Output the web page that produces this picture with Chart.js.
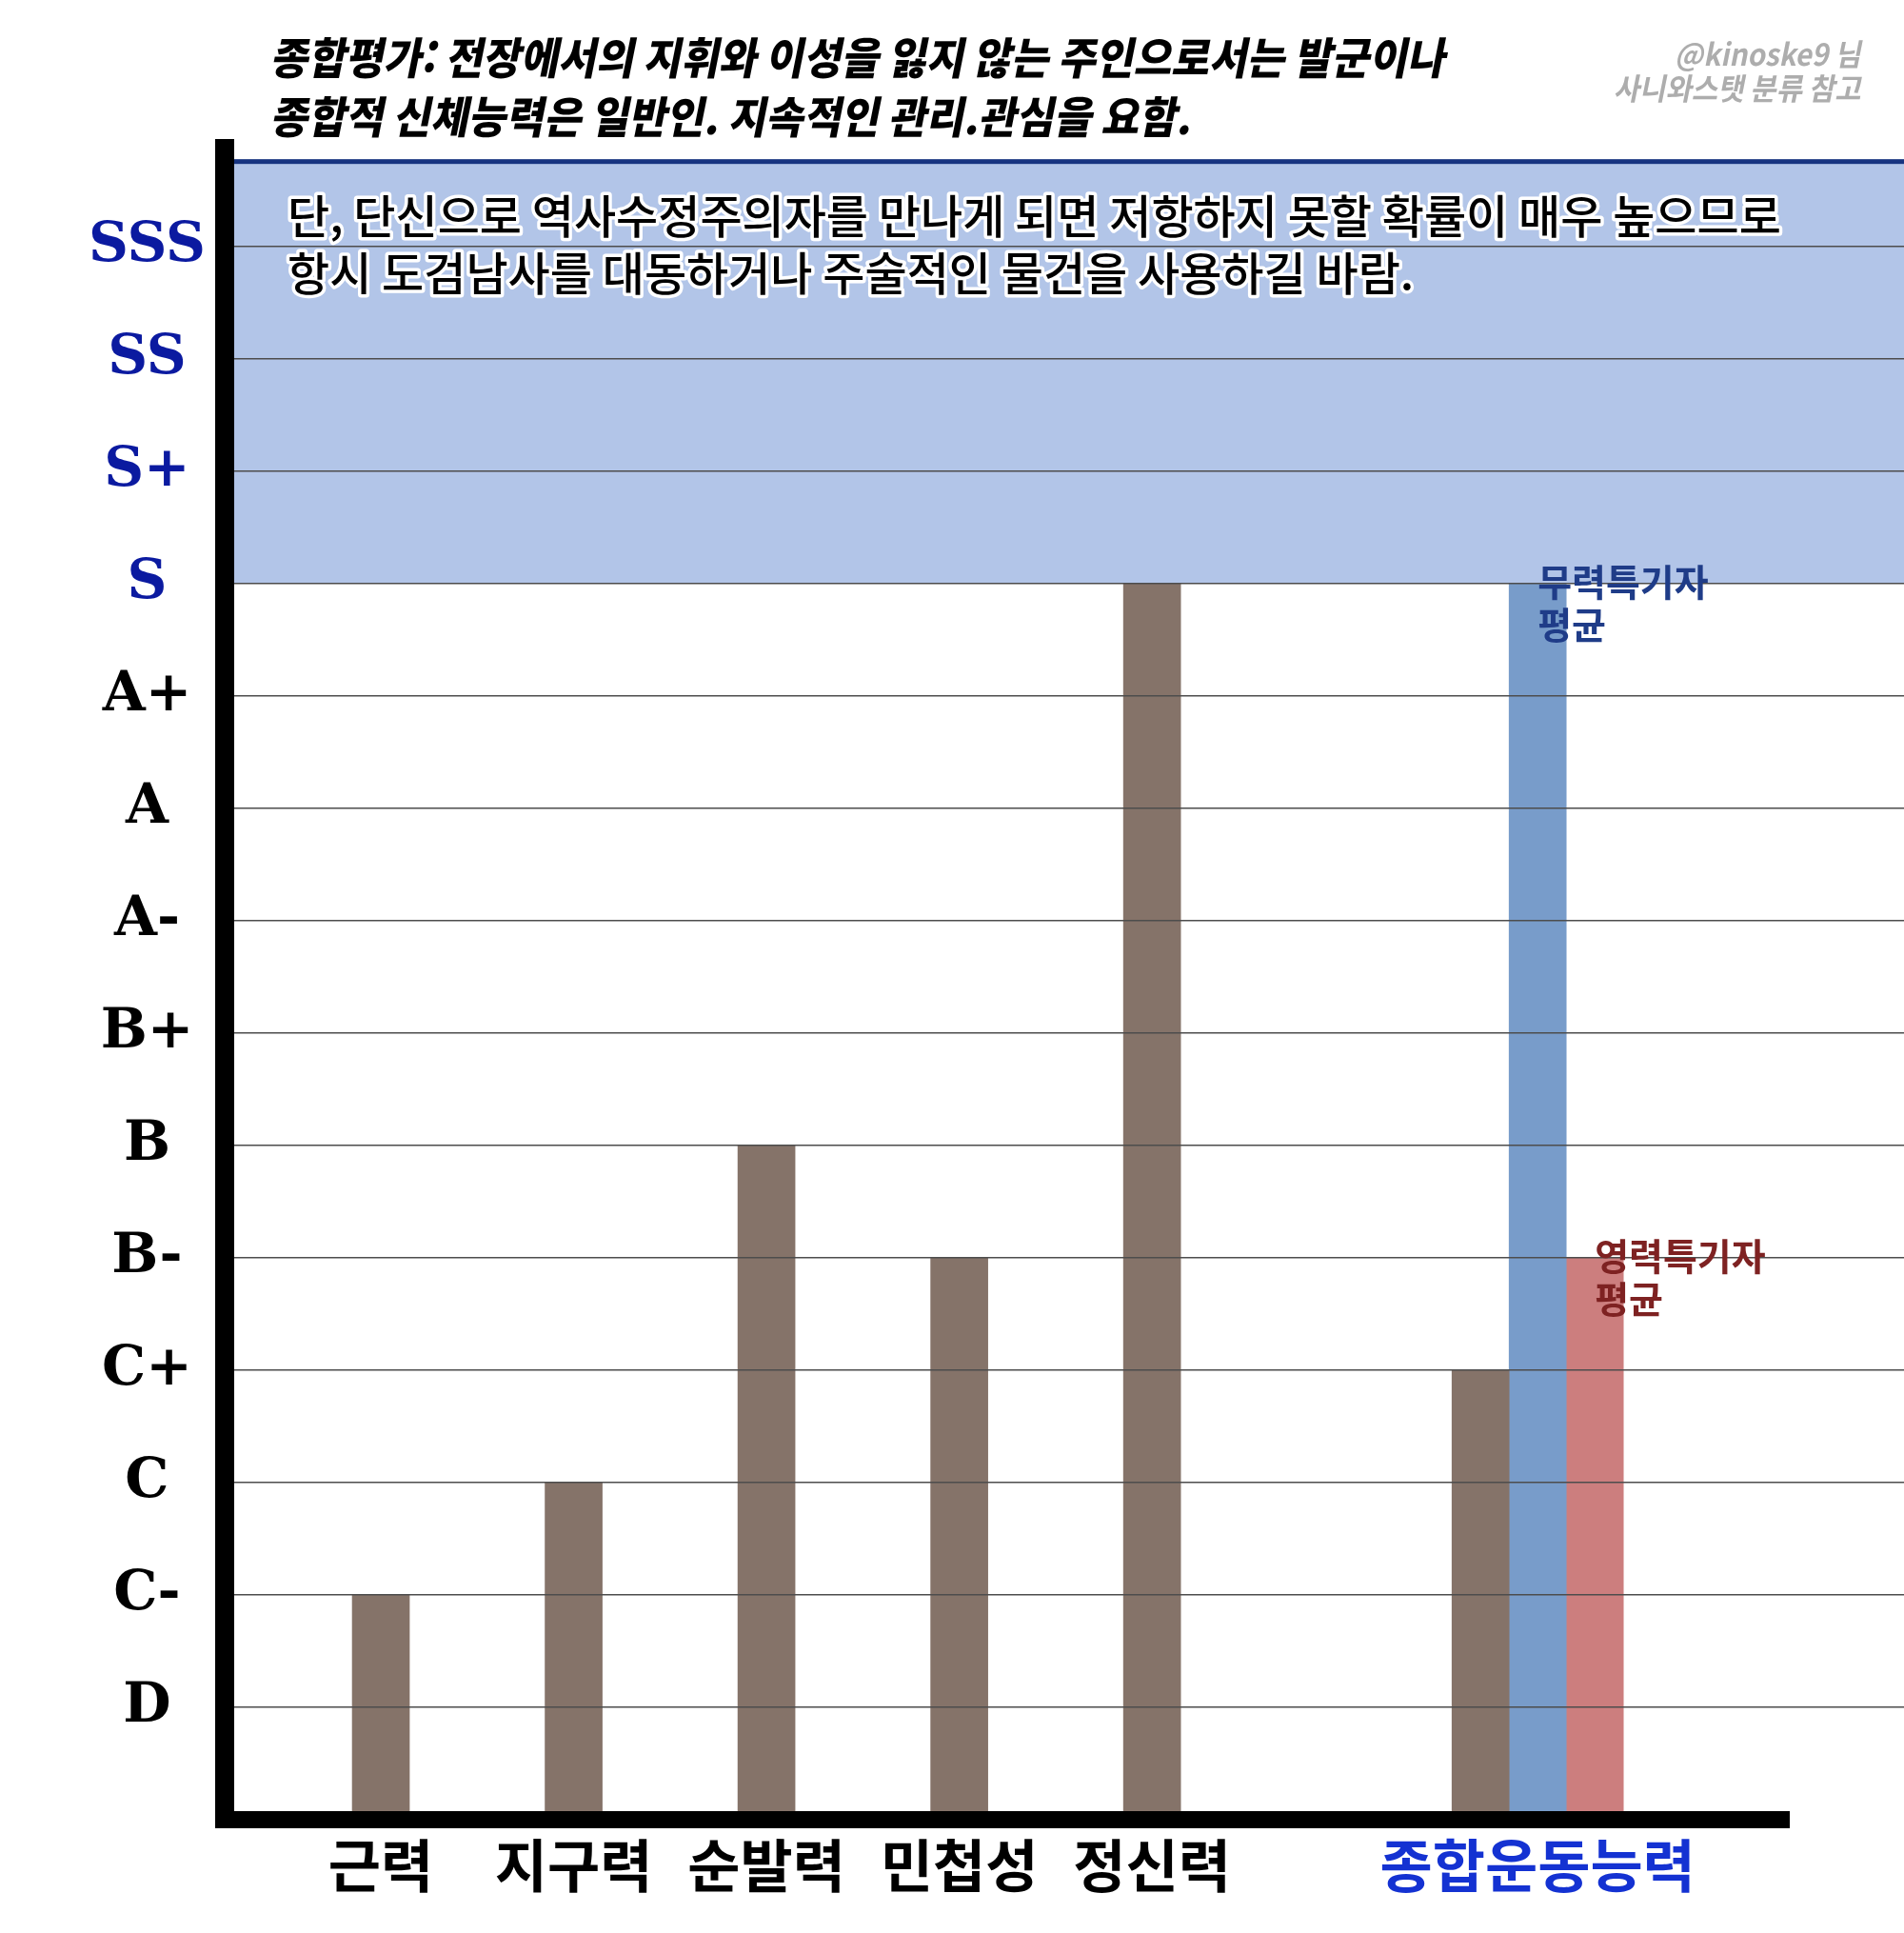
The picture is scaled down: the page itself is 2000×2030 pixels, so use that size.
<!DOCTYPE html>
<html lang="ko">
<head>
<meta charset="utf-8">
<title>종합평가</title>
<script src="https://cdn.jsdelivr.net/npm/chart.js@4.4.1/dist/chart.umd.min.js"></script>
<style>
  html, body { margin: 0; padding: 0; background: #fff; }
  #wrap { width: 2000px; height: 2030px; }
</style>
</head>
<body>
<div id="wrap"><canvas id="chart" width="2000" height="2030"></canvas></div>
<script>
// 데이터 (등급은 D = 1 ... SSS = 14)
const categories = ['근력', '지구력', '순발력', '민첩성', '정신력', '종합운동능력'];
const grades = ['D', 'C-', 'C', 'C+', 'B-', 'B', 'B+', 'A-', 'A', 'A+', 'S', 'S+', 'SS', 'SSS'];
const statValues = [2, 3, 6, 5, 11, 4];
const physAvg = [null, null, null, null, null, 11];   // 무력특기자 평균
const spiritAvg = [null, null, null, null, null, 5];  // 영력특기자 평균
const seriesNames = ['능력치', '무력특기자 평균', '영력특기자 평균'];

const titleLines = [
    '종합평가: 전장에서의 지휘와 이성을 잃지 않는 주인으로서는 발군이나',
    '종합적 신체능력은 일반인. 지속적인 관리.관심을 요함.'
];
const noteLines = [
    '단, 단신으로 역사수정주의자를 만나게 되면 저항하지 못할 확률이 매우 높으므로',
    '항시 도검남사를 대동하거나 주술적인 물건을 사용하길 바람.'
];
const creditLines = ['@kinoske9 님', '사니와스탯 분류 참고'];

// 레이아웃: 카테고리 자리 (종합운동능력 앞은 한 칸 비움), S 이상 강조 구간
const slots = [0, 1, 2, 3, 4, 6];
const bandFrom = 11, bandTo = 14.75;

const KR = '"Noto Sans CJK KR", "Noto Sans", sans-serif';

function toPoints(values) {
    return values.map((v, i) => ({ x: slots[i], y: v }));
}

// 가로로 눌러 쓴 글자 (원본의 좁은 글꼴 흉내)
function drawSquashed(ctx, text, x, y, sx, skew) {
    ctx.save();
    ctx.translate(x, y);
    ctx.transform(sx, 0, skew, 1, 0, 0);
    ctx.fillText(text, 0, 0);
    ctx.restore();
}

const decor = {
    id: 'decor',
    beforeDatasetsDraw(chart) {
        const { ctx, chartArea: a, scales: { y } } = chart;
        const top = y.getPixelForValue(bandTo);
        const bottom = y.getPixelForValue(bandFrom);
        ctx.save();
        ctx.fillStyle = '#b2c5e8';
        ctx.fillRect(a.left, top, a.right - a.left, bottom - top);
        ctx.fillStyle = '#173480';
        ctx.fillRect(a.left, top - 3, a.right - a.left, 5);
        ctx.restore();
    },
    afterDraw(chart) {
        const { ctx, chartArea: a, scales: { y } } = chart;
        ctx.save();

        // 굵은 x축
        const y0 = y.getPixelForValue(0);
        ctx.fillStyle = '#000';
        ctx.fillRect(a.left - 10, y0 - 9, chart.width - 120 - (a.left - 10), 18);

        // 제목
        ctx.fillStyle = '#000';
        ctx.textBaseline = 'middle';
        ctx.textAlign = 'left';
        ctx.font = '900 46px ' + KR;
        const sx = 1234 / ctx.measureText(titleLines[0]).width;
        drawSquashed(ctx, titleLines[0], 287, 61, sx, -0.2);
        drawSquashed(ctx, titleLines[1], 287, 123, sx, -0.2);

        // 출처
        ctx.fillStyle = '#adadad';
        ctx.textAlign = 'right';
        ctx.font = '700 32px ' + KR;
        drawSquashed(ctx, creditLines[0], 1957, 57, 0.93, -0.2);
        drawSquashed(ctx, creditLines[1], 1957, 93, 0.93, -0.2);

        // 강조 구간 안의 설명
        ctx.textAlign = 'left';
        ctx.font = '500 48px ' + KR;
        ctx.lineJoin = 'round';
        ctx.lineWidth = 7;
        ctx.strokeStyle = '#fff';
        ctx.fillStyle = '#000';
        noteLines.forEach((t, i) => {
            ctx.strokeText(t, 302, 227 + i * 60);
            ctx.fillText(t, 302, 227 + i * 60);
        });

        // 평균 막대 이름
        const labelColors = ['#1f3c88', '#7e2222'];
        [physAvg, spiritAvg].forEach((vals, k) => {
            const idx = vals.findIndex(v => v != null);
            const el = chart.getDatasetMeta(k + 1).data[idx];
            ctx.fillStyle = labelColors[k];
            ctx.font = '700 39px ' + KR;
            seriesNames[k + 1].split(' ').forEach((t, i) => {
                ctx.fillText(t, el.x, el.y - 2 + i * 45);
            });
        });

        ctx.restore();
    }
};

new Chart(document.getElementById('chart'), {
    type: 'bar',
    data: {
        datasets: [
            { label: seriesNames[0], data: toPoints(statValues), backgroundColor: '#857369' },
            { label: seriesNames[1], data: toPoints(physAvg), backgroundColor: '#789cca' },
            { label: seriesNames[2], data: toPoints(spiritAvg), backgroundColor: '#cc7e7e' }
        ]
    },
    options: {
        responsive: false,
        animation: false,
        layout: { padding: { left: 0, right: 0, top: 156, bottom: 23 } },
        datasets: { bar: { barThickness: 60, skipNull: true } },
        plugins: { legend: { display: false }, tooltip: { enabled: false } },
        scales: {
            x: {
                type: 'linear',
                min: -0.81,
                max: 7.9,
                offset: false,
                grid: { display: false, drawTicks: false, offset: false },
                border: { display: false },
                ticks: {
                    stepSize: 1,
                    includeBounds: false,
                    autoSkip: false,
                    maxRotation: 0,
                    minRotation: 0,
                    padding: 12,
                    callback: v => { const i = slots.indexOf(v); return i < 0 ? '' : categories[i]; },
                    color: c => slots.indexOf(c.tick.value) === categories.length - 1 ? '#1432d2' : '#000',
                    font: { family: KR, size: 60, weight: 'bold' }
                }
            },
            y: {
                min: 0,
                max: 14.87,
                afterFit(scale) { scale.width = 236; },
                grid: {
                    z: 1,
                    drawTicks: false,
                    lineWidth: 1.5,
                    color: c => (c.tick.value >= 1 && c.tick.value <= grades.length) ? '#4d4d4d' : 'rgba(0,0,0,0)'
                },
                border: { display: true, color: '#000', width: 20, z: 1 },
                ticks: {
                    stepSize: 1,
                    includeBounds: false,
                    maxTicksLimit: 20,
                    autoSkip: false,
                    padding: 20,
                    crossAlign: 'center',
                    callback: v => grades[v - 1] || '',
                    color: c => c.tick.value >= 11 ? '#0b1aa0' : '#000',
                    font: { family: '"DejaVu Serif", serif', size: 58, weight: 'bold' }
                }
            }
        }
    },
    plugins: [decor]
});
</script>
</body>
</html>
